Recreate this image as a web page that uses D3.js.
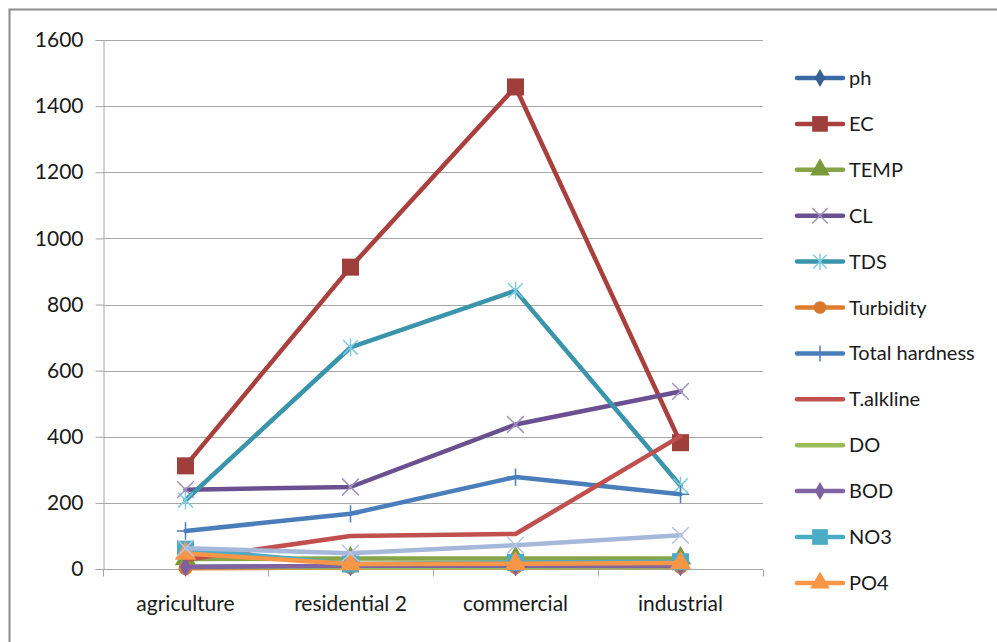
<!DOCTYPE html>
<html>
<head>
<meta charset="utf-8">
<script src="https://cdn.jsdelivr.net/npm/d3@7"></script>
<style>
  body { margin: 0; background: #fff; }
  text { font-family: Lato, "Open Sans", sans-serif; fill: #1a1a1a; }
</style>
</head>
<body>
<div id="chart"></div>
<script>
// data
var categories = ["agriculture", "residential 2", "commercial", "industrial"];
var yTicks = [0, 200, 400, 600, 800, 1000, 1200, 1400, 1600];

var ph = [7, 7.5, 7.4, 7.6];
var EC = [312, 913, 1458, 382];
var TEMP = [30, 32, 32, 32];
var CL = [240, 248, 437, 537];
var TDS = [208, 670, 842, 252];
var Turbidity = [2, 5, 5, 6];
var TotalHardness = [115, 167, 278, 226];
var TAlkline = [28, 100, 106, 402];
var DO = [6, 5, 5, 6];
var BOD = [6, 10, 10, 9];
var NO3 = [60, 15, 20, 22];
var PO4 = [47, 15, 16, 18];
var extra = [63, 48, 72, 102];   // 13th series, not in the (clipped) legend

var series = [
  { name: "ph", values: ph, line: "#3b6aa3", mark: "#355f93", shape: "diamond" },
  { name: "EC", values: EC, line: "#aa403d", mark: "#9f3f3c", shape: "square" },
  { name: "TEMP", values: TEMP, line: "#86a449", mark: "#7a9a3c", shape: "triangle" },
  { name: "CL", values: CL, line: "#6a5090", mark: "#a493c0", shape: "x" },
  { name: "TDS", values: TDS, line: "#3a94ab", mark: "#7ecbe0", shape: "star" },
  { name: "Turbidity", values: Turbidity, line: "#df7d2f", mark: "#d9782c", shape: "circle" },
  { name: "Total hardness", values: TotalHardness, line: "#4a7ebb", mark: "#4a7ebb", shape: "plus" },
  { name: "T.alkline", values: TAlkline, line: "#c0504d", mark: null, shape: null },
  { name: "DO", values: DO, line: "#9bbb59", mark: null, shape: null },
  { name: "BOD", values: BOD, line: "#8064a2", mark: "#7d60a0", shape: "diamond" },
  { name: "NO3", values: NO3, line: "#4bacc6", mark: "#4bacc6", shape: "square" },
  { name: "PO4", values: PO4, line: "#f79646", mark: "#f79646", shape: "triangle" },
  { name: "", values: extra, line: "#a5b8da", mark: "#b6c5e2", shape: "x", noLegend: true }
];

var width = 997, height = 642;
var plot = { left: 103, right: 763, top: 40, bottom: 569 };

var svg = d3.select("#chart").append("svg")
  .attr("width", width).attr("height", height);

// outer frame (right/bottom edges are off the picture)
svg.append("rect")
  .attr("x", 9.5).attr("y", 9.5)
  .attr("width", 1010).attr("height", 660)
  .attr("fill", "#fff").attr("stroke", "#8c8c8c").attr("stroke-width", 2);

var x = d3.scaleBand().domain(categories).range([plot.left, plot.right]);
var y = d3.scaleLinear().domain([0, 1600]).range([plot.bottom, plot.top]);

// gridlines
svg.append("g").selectAll("line")
  .data(yTicks)
  .enter().append("line")
  .attr("x1", plot.left).attr("x2", plot.right)
  .attr("y1", function (d) { return Math.round(y(d)) + 0.5; })
  .attr("y2", function (d) { return Math.round(y(d)) + 0.5; })
  .attr("stroke", "#a6a6a6").attr("stroke-width", 1);

// y axis
var yAxis = svg.append("g")
  .attr("transform", "translate(" + (plot.left + 0.5) + ",0)")
  .call(d3.axisLeft(y).tickValues(yTicks).tickFormat(d3.format("d")).tickSize(8).tickPadding(12));
yAxis.selectAll("text").style("font-size", "21px");

// x axis with ticks between categories
var xAxis = svg.append("g")
  .attr("transform", "translate(0," + (plot.bottom + 0.5) + ")")
  .call(d3.axisBottom(x).tickSize(0).tickPadding(27));
xAxis.selectAll("text").style("font-size", "21px");
xAxis.selectAll(".bound")
  .data(d3.range(categories.length + 1))
  .enter().append("line")
  .attr("class", "bound")
  .attr("x1", function (i) { return Math.round(plot.left + i * x.step()) + 0.5; })
  .attr("x2", function (i) { return Math.round(plot.left + i * x.step()) + 0.5; })
  .attr("y1", 0).attr("y2", 7)
  .attr("stroke", "#a6a6a6");

svg.selectAll(".domain, .tick line").attr("stroke", "#a6a6a6");
xAxis.select(".domain").attr("d", "M" + plot.left + ",0H" + plot.right);

function cx(i) { return x(categories[i]) + x.bandwidth() / 2; }

var symbolX = {
  draw: function (ctx, size) {
    var r = Math.sqrt(size) / 2;
    ctx.moveTo(-r, -r); ctx.lineTo(r, r);
    ctx.moveTo(r, -r); ctx.lineTo(-r, r);
  }
};
var symbolStar = {
  draw: function (ctx, size) {
    var r = Math.sqrt(size) / 2;
    ctx.moveTo(-r, -r); ctx.lineTo(r, r);
    ctx.moveTo(r, -r); ctx.lineTo(-r, r);
    ctx.moveTo(0, -r * 1.2); ctx.lineTo(0, r * 1.2);
  }
};
var symbolPlus = {
  draw: function (ctx, size) {
    var r = Math.sqrt(size) / 2;
    ctx.moveTo(0, -r); ctx.lineTo(0, r);
    ctx.moveTo(-r, 0); ctx.lineTo(r, 0);
  }
};

function markerPath(shape, scale) {
  scale = scale || 1;
  if (shape == "diamond") return d3.symbol().type(d3.symbolDiamond).size(110 * scale)();
  if (shape == "square") return d3.symbol().type(d3.symbolSquare).size(290 * scale)();
  if (shape == "triangle") return d3.symbol().type(d3.symbolTriangle).size(200 * scale)();
  if (shape == "circle") return d3.symbol().type(d3.symbolCircle).size(150 * scale)();
  if (shape == "x") return d3.symbol().type(symbolX).size(280 * scale)();
  if (shape == "star") return d3.symbol().type(symbolStar).size(220 * scale)();
  if (shape == "plus") return d3.symbol().type(symbolPlus).size(300 * scale)();
  return null;
}
function isStroke(shape) { return shape == "x" || shape == "star" || shape == "plus"; }

var line = d3.line()
  .x(function (d, i) { return cx(i); })
  .y(function (d) { return y(d); });

series.forEach(function (s) {
  var g = svg.append("g");
  g.append("path")
    .attr("d", line(s.values))
    .attr("fill", "none")
    .attr("stroke", s.line)
    .attr("stroke-width", 4.5)
    .attr("stroke-linejoin", "round")
    .attr("stroke-linecap", "round");
  if (s.shape) {
    g.selectAll("path.m")
      .data(s.values)
      .enter().append("path")
      .attr("class", "m")
      .attr("d", markerPath(s.shape))
      .attr("transform", function (d, i) { return "translate(" + cx(i) + "," + y(d) + ")"; })
      .attr("fill", isStroke(s.shape) ? "none" : s.mark)
      .attr("stroke", isStroke(s.shape) ? s.mark : "none")
      .attr("stroke-width", 1.5);
  }
});

// legend
var legendData = series.filter(function (s) { return !s.noLegend; });
var legend = svg.selectAll(".legend")
  .data(legendData)
  .enter().append("g")
  .attr("class", "legend")
  .attr("transform", function (d, i) { return "translate(797," + (78 + i * 45.9) + ")"; });

legend.append("line")
  .attr("x1", 0).attr("x2", 46)
  .attr("stroke", function (d) { return d.line; })
  .attr("stroke-width", 4.5)
  .attr("stroke-linecap", "round");
legend.filter(function (d) { return d.shape; })
  .append("path")
  .attr("d", function (d) { return markerPath(d.shape, 0.85); })
  .attr("transform", "translate(23,0)")
  .attr("fill", function (d) { return isStroke(d.shape) ? "none" : d.mark; })
  .attr("stroke", function (d) { return isStroke(d.shape) ? d.mark : "none"; })
  .attr("stroke-width", 1.5);
legend.append("text")
  .attr("x", 52).attr("dy", "0.35em")
  .style("font-size", "20px")
  .text(function (d) { return d.name; });
</script>
</body>
</html>
